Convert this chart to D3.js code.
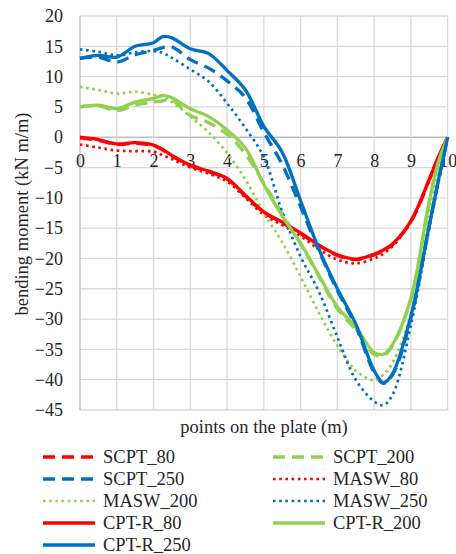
<!DOCTYPE html>
<html>
<head>
<meta charset="utf-8">
<script src="https://cdn.jsdelivr.net/npm/d3@7"></script>
<style>
  body { margin: 0; background: #fff; }
  svg text { font-family: "Liberation Serif", "Times New Roman", "DejaVu Serif", serif !important; fill: #262626; }
</style>
</head>
<body>
<div id="chart"></div>
<script>
// points on the plate (m)
const xs = [0, 0.5, 1, 1.5, 2, 2.25, 2.5, 3, 3.5, 4, 4.5, 5, 5.5, 6, 6.5, 7, 7.5, 8, 8.25, 8.5, 9, 9.5, 9.75, 10];

// bending moment (kN m/m) for each series
const scpt80  = [-0.1, -0.5, -1.2, -1.0, -1.4, -2.1, -3.1, -4.7, -5.7, -6.9, -9.7, -12.4, -14.1, -15.9, -17.9, -19.5, -20.2, -19.4, -18.7, -17.7, -13.9, -7.0, -3.2, 0];
const scpt200 = [5.0, 5.2, 4.4, 5.3, 5.8, 6.0, 6.1, 3.6, 2.4, 0.5, -2.8, -7.6, -12.6, -17.6, -23.0, -28.3, -31.8, -35.8, -36.0, -34.4, -26.7, -10.6, -4.0, 0];
const scpt250 = [13.0, 13.2, 12.4, 13.6, 14.3, 14.8, 14.9, 12.8, 11.4, 9.3, 6.5, 0.8, -4.5, -11.5, -18.8, -25.3, -31.2, -38.8, -40.6, -39.2, -29.8, -14.6, -7.0, 0];
const masw80  = [-1.2, -1.7, -2.2, -2.3, -2.4, -3.0, -3.6, -5.0, -6.0, -7.3, -10.0, -12.8, -14.5, -16.3, -18.5, -20.2, -20.8, -20.0, -19.2, -18.0, -14.0, -7.2, -3.3, 0];
const masw200 = [8.3, 7.8, 7.2, 7.5, 7.0, 6.6, 5.8, 3.4, 0.8, -2.6, -7.0, -12.5, -17.3, -23.0, -29.0, -34.4, -38.5, -40.1, -39.2, -37.2, -29.0, -12.5, -5.5, 0];
const masw250 = [14.5, 14.1, 13.5, 14.0, 14.2, 13.9, 13.1, 11.2, 9.2, 5.6, 1.5, -3.3, -12.3, -19.7, -25.5, -33.0, -40.0, -43.6, -44.2, -42.5, -31.0, -15.0, -7.5, 0];
const cptr80  = [0.0, -0.4, -1.1, -0.9, -1.3, -2.0, -3.0, -4.6, -5.6, -6.8, -9.6, -12.3, -14.0, -15.8, -17.8, -19.4, -20.1, -19.3, -18.6, -17.6, -13.8, -6.9, -3.2, 0];
const cptr200 = [5.0, 5.3, 4.7, 5.8, 6.4, 6.9, 6.5, 4.7, 3.4, 1.2, -1.8, -7.8, -13.0, -17.5, -22.8, -28.0, -31.3, -35.5, -35.8, -34.2, -26.5, -10.5, -4.0, 0];
const cptr250 = [13.0, 13.5, 13.2, 15.0, 15.6, 16.6, 16.4, 14.6, 13.8, 11.0, 7.8, 1.8, -2.5, -10.5, -18.5, -25.0, -30.8, -38.5, -40.5, -39.0, -29.5, -14.5, -7.0, 0];

const seriesNames = ["SCPT_80", "SCPT_200", "SCPT_250", "MASW_80", "MASW_200", "MASW_250", "CPT-R_80", "CPT-R_200", "CPT-R_250"];
const seriesValues = [scpt80, scpt200, scpt250, masw80, masw200, masw250, cptr80, cptr200, cptr250];

const xTicks = [0, 1, 2, 3, 4, 5, 6, 7, 8, 9, 10];
const yTicks = [20, 15, 10, 5, 0, -5, -10, -15, -20, -25, -30, -35, -40, -45];

// styling per series (colour by soil, dash by method)
const red = "#ff0000", green = "#92d050", blue = "#0070c0";
const colorOf = name => name.endsWith("_80") ? red : (name.endsWith("_200") ? green : blue);
function dashOf(name) {
  if (name.startsWith("SCPT")) return "12,7";
  if (name.startsWith("MASW")) return "2.6,3.6";
  return null;
}
function widthOf(name) {
  if (name.startsWith("MASW")) return 2.7;
  return 3.3;
}

const serif = "Liberation Serif";
const width = 456, height = 554;
const plot = {left: 80, right: 447.7, top: 16, bottom: 410};

const svg = d3.select("#chart")
  .append("svg")
  .attr("width", width)
  .attr("height", height)
  .attr("font-family", serif);

const x = d3.scaleLinear().domain([0, 10]).range([plot.left, plot.right]);
const y = d3.scaleLinear().domain([-45, 20]).range([plot.bottom, plot.top]);

// gridlines
svg.append("g")
  .selectAll("line")
  .data(yTicks)
  .join("line")
  .attr("x1", plot.left).attr("x2", plot.right)
  .attr("y1", d => y(d)).attr("y2", d => y(d))
  .attr("stroke", d => d === 0 ? "#bfbfbf" : "#d9d9d9")
  .attr("stroke-width", 1.3);

svg.append("g")
  .selectAll("line")
  .data(xTicks)
  .join("line")
  .attr("x1", d => x(d)).attr("x2", d => x(d))
  .attr("y1", plot.top).attr("y2", plot.bottom)
  .attr("stroke", d => d === 0 ? "#bfbfbf" : "#d9d9d9")
  .attr("stroke-width", 1.3);

// y axis labels
svg.append("g")
  .attr("transform", `translate(${plot.left}, 0)`)
  .call(d3.axisLeft(y).tickValues(yTicks).tickSize(0).tickPadding(17))
  .attr("font-family", serif)
  .attr("font-size", 18)
  .call(g => g.select(".domain").remove())
  .selectAll("text")
  .attr("fill", "#262626");

// x axis labels sit on the zero line
svg.append("g")
  .attr("transform", `translate(0, ${y(0)})`)
  .call(d3.axisBottom(x).tickValues(xTicks).tickSize(0).tickPadding(17))
  .attr("font-family", serif)
  .attr("font-size", 18)
  .call(g => g.select(".domain").remove())
  .selectAll("text")
  .attr("fill", "#262626");

// axis titles
svg.append("text")
  .attr("transform", "translate(28, 214) rotate(-90)")
  .attr("text-anchor", "middle")
  .attr("font-size", 18.5)
  .text("bending moment (kN m/m)");

svg.append("text")
  .attr("x", 264)
  .attr("y", 433)
  .attr("text-anchor", "middle")
  .attr("font-size", 18.5)
  .text("points on the plate (m)");

// the lines
const line = d3.line()
  .x(d => x(d[0]))
  .y(d => y(d[1]))
  .curve(d3.curveCatmullRom.alpha(0.5));

const series = seriesNames.map((name, i) => ({
  name: name,
  points: xs.map((v, j) => [v, seriesValues[i][j]])
}));

svg.append("g")
  .selectAll("path")
  .data(series)
  .join("path")
  .attr("d", d => line(d.points))
  .attr("fill", "none")
  .attr("stroke", d => colorOf(d.name))
  .attr("stroke-width", d => widthOf(d.name))
  .attr("stroke-dasharray", d => dashOf(d.name))
  .attr("stroke-linejoin", "round");

// legend, two columns, row major like excel
const legend = svg.append("g");
const legendItems = legend.selectAll("g")
  .data(seriesNames)
  .join("g")
  .attr("transform", (d, i) => `translate(${i % 2 === 0 ? 43 : 273}, ${457 + Math.floor(i / 2) * 22})`);

legendItems.append("line")
  .attr("x1", 0).attr("x2", 52)
  .attr("y1", 0).attr("y2", 0)
  .attr("stroke", d => colorOf(d))
  .attr("stroke-width", d => widthOf(d))
  .attr("stroke-dasharray", d => dashOf(d));

legendItems.append("text")
  .attr("x", 60)
  .attr("y", 0)
  .attr("dy", "0.34em")
  .attr("font-size", 18.5)
  .text(d => d);
</script>
</body>
</html>
